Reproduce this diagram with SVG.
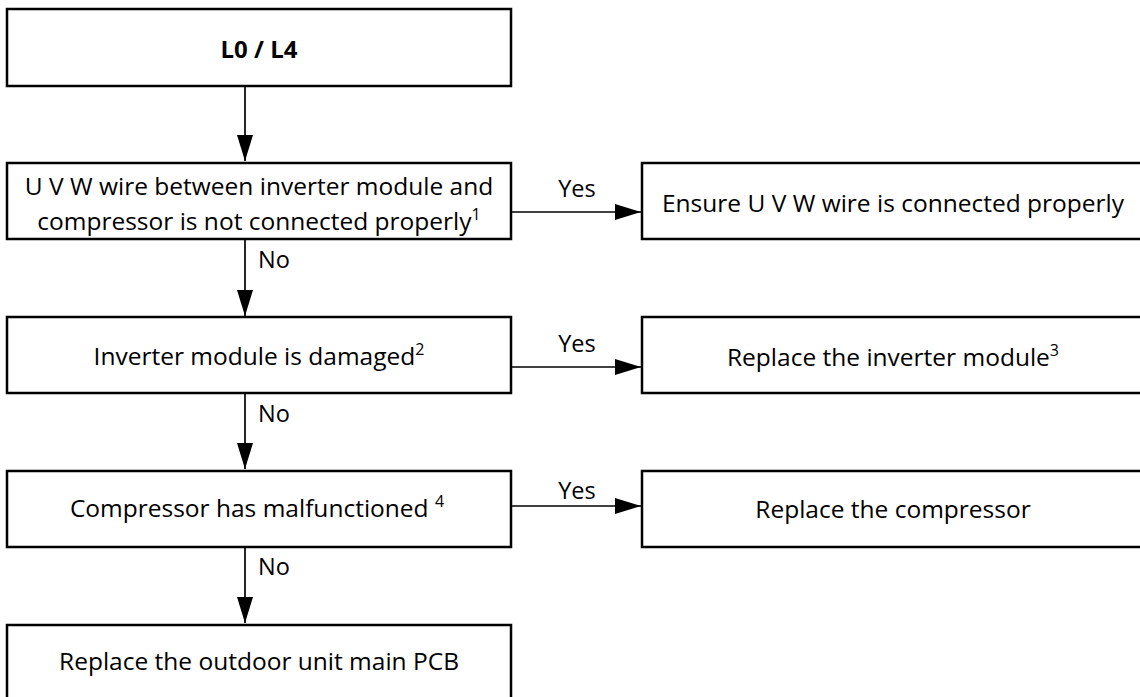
<svg xmlns="http://www.w3.org/2000/svg" width="1140" height="697" viewBox="0 0 1140 697">
<style>
.box{fill:#fff;stroke:#000;stroke-width:2.5}
.t{font-family:"Open Sans","Liberation Sans",sans-serif;font-size:24.5px;fill:#000;text-anchor:middle}
.b{font-weight:bold;font-size:24px}
.lbl{font-family:"Open Sans","Liberation Sans",sans-serif;font-size:23.5px;fill:#000}
.sup{font-size:16px}
.conn{stroke:#000;stroke-width:1.7;fill:none}
</style>
<defs>
<marker id="ah" markerUnits="userSpaceOnUse" markerWidth="26" markerHeight="16" refX="26" refY="8" orient="auto">
<path d="M0,0 L26,8 L0,16 Z" fill="#000"/>
</marker>
</defs>
<rect width="1140" height="697" fill="#fff"/>
<g id="connectors">
<line class="conn" x1="245" y1="86" x2="245" y2="161" marker-end="url(#ah)"/>
<line class="conn" x1="511" y1="212" x2="641" y2="212" marker-end="url(#ah)"/>
<text class="lbl" x="577" y="197" text-anchor="middle">Yes</text>
<line class="conn" x1="245" y1="239" x2="245" y2="316" marker-end="url(#ah)"/>
<text class="lbl" x="258" y="268">No</text>
<line class="conn" x1="511" y1="367" x2="641" y2="367" marker-end="url(#ah)"/>
<text class="lbl" x="577" y="352" text-anchor="middle">Yes</text>
<line class="conn" x1="245" y1="393" x2="245" y2="469" marker-end="url(#ah)"/>
<text class="lbl" x="258" y="422">No</text>
<line class="conn" x1="511" y1="506" x2="641" y2="506" marker-end="url(#ah)"/>
<text class="lbl" x="577" y="499" text-anchor="middle">Yes</text>
<line class="conn" x1="245" y1="547" x2="245" y2="623" marker-end="url(#ah)"/>
<text class="lbl" x="258" y="575">No</text>
</g>
<g id="start">
<rect class="box" x="7" y="9" width="504" height="77"/>
<text class="t b" x="259" y="58">L0 / L4</text>
</g>
<g id="check-uvw">
<rect class="box" x="7" y="163" width="504" height="76"/>
<text class="t" x="259" y="195">U V W wire between inverter module and</text>
<text class="t" x="259" y="230">compressor is not connected properly<tspan class="sup" dy="-10">1</tspan></text>
</g>
<g id="fix-uvw">
<rect class="box" x="642" y="163" width="502" height="76"/>
<text class="t" x="893" y="212">Ensure U V W wire is connected properly</text>
</g>
<g id="check-inverter">
<rect class="box" x="7" y="317" width="504" height="76"/>
<text class="t" x="259" y="365">Inverter module is damaged<tspan class="sup" dy="-10">2</tspan></text>
</g>
<g id="fix-inverter">
<rect class="box" x="642" y="317" width="502" height="76"/>
<text class="t" x="893" y="366">Replace the inverter module<tspan class="sup" dy="-10">3</tspan></text>
</g>
<g id="check-compressor">
<rect class="box" x="7" y="471" width="504" height="76"/>
<text class="t" x="257" y="517">Compressor has malfunctioned <tspan class="sup" dy="-10">4</tspan></text>
</g>
<g id="fix-compressor">
<rect class="box" x="642" y="471" width="502" height="76"/>
<text class="t" x="893" y="518">Replace the compressor</text>
</g>
<g id="replace-pcb">
<rect class="box" x="7" y="625" width="504" height="80"/>
<text class="t" x="259" y="670">Replace the outdoor unit main PCB</text>
</g>
</svg>
